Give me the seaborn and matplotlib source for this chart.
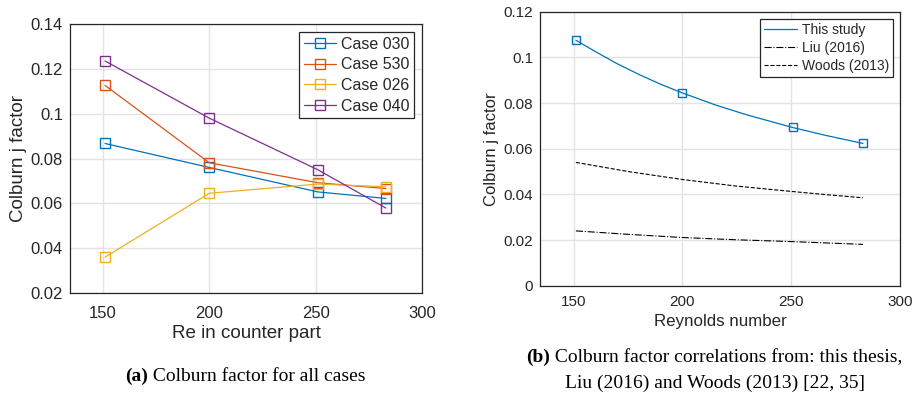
import numpy as np
import pandas as pd
import matplotlib
matplotlib.use("Agg")
import matplotlib.pyplot as plt
import seaborn as sns
from matplotlib.ticker import FuncFormatter

# ---------------- data ----------------
re_cases = [151, 200, 251, 283]
case_names = ["Case 030", "Case 530", "Case 026", "Case 040"]
case_030 = [0.0867, 0.0760, 0.0651, 0.0622]
case_530 = [0.1126, 0.0781, 0.0692, 0.0666]
case_026 = [0.0360, 0.0645, 0.0686, 0.0674]
case_040 = [0.1235, 0.0980, 0.0750, 0.0579]

re_curve = [151, 160, 170, 180, 190, 200, 215, 230, 251, 265, 283]
this_study_curve = [0.1075, 0.1025, 0.0972, 0.0925, 0.0882, 0.0844, 0.0792, 0.0747, 0.0692, 0.0660, 0.0623]
this_study_pts = [0.1075, 0.0844, 0.0695, 0.0623]
re_corr = [151, 175, 200, 225, 251, 267, 283]
liu_2016 = [0.0240, 0.0225, 0.0211, 0.0201, 0.0193, 0.0187, 0.0181]
woods_2013 = [0.0540, 0.0500, 0.0465, 0.0436, 0.0412, 0.0398, 0.0385]

left_yticks = [0.02, 0.04, 0.06, 0.08, 0.10, 0.12, 0.14]
right_yticks = [0, 0.02, 0.04, 0.06, 0.08, 0.10, 0.12]
xticks = [150, 200, 250, 300]

colors = ["#0072BD", "#D95319", "#EDB120", "#7E2F8E"]

sns.set_theme(style="whitegrid")
plt.rcParams["font.family"] = ["Liberation Sans", "DejaVu Sans"]
plt.rcParams["axes.edgecolor"] = "#262626"
plt.rcParams["text.color"] = "#262626"

fig = plt.figure(figsize=(9.15, 3.95), dpi=100)
ax1 = fig.add_axes([0.0765, 0.2582, 0.3847, 0.681])
ax2 = fig.add_axes([0.5902, 0.2767, 0.3934, 0.6937])

def matlab_fmt(v, pos):
    return f"{v:.2f}".rstrip("0").rstrip(".")

# ----- left panel -----
df = pd.DataFrame({
    "Re": re_cases * 4,
    "j": case_030 + case_530 + case_026 + case_040,
    "case": sum([[n] * len(re_cases) for n in case_names], []),
})
sns.lineplot(data=df, x="Re", y="j", hue="case", palette=colors, marker="s",
             markersize=6.5, markerfacecolor="none", markeredgewidth=1.0,
             linewidth=0.9, ax=ax1, legend=False)
for line, c in zip(ax1.lines, colors):
    line.set_markeredgecolor(c)
ax1.set_xlim(134.5, 300)
ax1.set_ylim(0.02, 0.14)
ax1.set_xticks(xticks)
ax1.set_yticks(left_yticks)
ax1.yaxis.set_major_formatter(FuncFormatter(matlab_fmt))
ax1.tick_params(labelsize=12, colors="#262626", length=0)
ax1.tick_params(axis="x", pad=9)
ax1.tick_params(axis="y", pad=5)
ax1.set_xlabel("Re in counter part", fontsize=13.5, labelpad=3)
ax1.set_ylabel("Colburn j factor", fontsize=13.5, labelpad=3)
handles = [plt.Line2D([], [], color=c, marker="s", markerfacecolor="none",
                      markeredgecolor=c, markersize=6.5, linewidth=0.9) for c in colors]
leg1 = ax1.legend(handles, case_names, loc="upper right", fontsize=11.5,
                  frameon=True, fancybox=False, edgecolor="#262626",
                  borderaxespad=0.5, handlelength=2.0, handletextpad=0.3,
                  labelspacing=0.35, borderpad=0.3)
leg1.get_frame().set_linewidth(0.9)
leg1.get_frame().set_alpha(1)

# ----- right panel -----
sns.lineplot(x=re_curve, y=this_study_curve, color=colors[0], linewidth=0.9, ax=ax2)
sns.lineplot(x=re_cases, y=this_study_pts, color=colors[0], marker="s", linestyle="none",
             markersize=5.5, markerfacecolor="none", markeredgecolor=colors[0],
             markeredgewidth=1.0, ax=ax2)
sns.lineplot(x=re_corr, y=liu_2016, color="black", linewidth=0.8, linestyle="-.", ax=ax2)
sns.lineplot(x=re_corr, y=woods_2013, color="black", linewidth=0.8, linestyle="--", ax=ax2)
ax2.set_xlim(134.5, 300)
ax2.set_ylim(0, 0.12)
ax2.set_xticks(xticks)
ax2.set_yticks(right_yticks)
ax2.yaxis.set_major_formatter(FuncFormatter(matlab_fmt))
ax2.tick_params(labelsize=11, colors="#262626", length=0)
ax2.tick_params(axis="x", pad=7)
ax2.tick_params(axis="y", pad=5)
ax2.set_xlabel("Reynolds number", fontsize=12.2, labelpad=3)
ax2.set_ylabel("Colburn j factor", fontsize=12, labelpad=3)
h2 = [plt.Line2D([], [], color=colors[0], linewidth=0.9),
      plt.Line2D([], [], color="black", linewidth=0.8, linestyle="-."),
      plt.Line2D([], [], color="black", linewidth=0.8, linestyle="--")]
leg2 = ax2.legend(h2, ["This study", "Liu (2016)", "Woods (2013)"], loc="upper right",
                  fontsize=10, frameon=True, fancybox=False, edgecolor="#262626",
                  borderaxespad=0.5, handlelength=2.4, handletextpad=0.3,
                  labelspacing=0.3, borderpad=0.3)
leg2.get_frame().set_linewidth(0.9)
leg2.get_frame().set_alpha(1)

for ax in (ax1, ax2):
    ax.grid(True, color="#e3e3e3", linewidth=1.0)
    for sp in ax.spines.values():
        sp.set_visible(True)
        sp.set_color("#262626")
        sp.set_linewidth(0.9)

# captions with bold sub-figure letter
renderer = fig.canvas.get_renderer()

def caption(xc, y, label, rest, size=14):
    tb = fig.text(0, y, label, fontsize=size, family="Liberation Serif",
                  weight="bold", va="center", color="black")
    tr = fig.text(0, y, " " + rest, fontsize=size, family="Liberation Serif",
                  va="center", color="black")
    wb = tb.get_window_extent(renderer).width / fig.bbox.width
    wr = tr.get_window_extent(renderer).width / fig.bbox.width
    x0 = xc - (wb + wr) / 2
    tb.set_x(x0)
    tr.set_x(x0 + wb)

caption(0.268, 0.048, "(a)", "Colburn factor for all cases")
caption(0.781, 0.095, "(b)", "Colburn factor correlations from: this thesis,")
fig.text(0.781, 0.03, "Liu (2016) and Woods (2013) [22, 35]", fontsize=14,
         family="Liberation Serif", ha="center", va="center", color="black")

fig.savefig("out.png", dpi=100)
